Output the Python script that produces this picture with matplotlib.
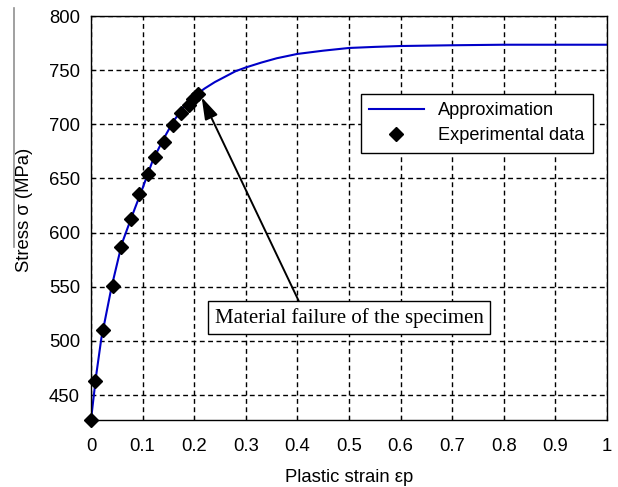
import numpy as np
import matplotlib
matplotlib.use("Agg")
import matplotlib.pyplot as plt
from matplotlib.lines import Line2D

# experimental points
exp_strain = [0.0, 0.008, 0.023, 0.042, 0.0575, 0.0775, 0.094, 0.11, 0.124, 0.142,
              0.159, 0.174, 0.19, 0.198, 0.208]
exp_stress = [427, 463, 510, 551, 587, 613, 636, 654, 670, 684,
              699, 710, 718, 723, 728]

# approximation curve
fit_strain = [0.0, 0.01, 0.02, 0.04, 0.06, 0.08, 0.1, 0.12, 0.14, 0.16, 0.18, 0.2, 0.22,
              0.24, 0.26, 0.28, 0.3, 0.33, 0.36, 0.4, 0.45, 0.5, 0.55, 0.6, 0.7, 0.8, 0.9, 1.0]
fit_stress = [427, 468, 502, 550, 590, 616, 641, 667, 686, 703, 716, 726, 733,
              739, 744, 749, 752.5, 757, 761, 765, 768, 770.5, 771.5, 772.3, 773, 773.5, 773.5, 773.5]

xticks = [0, 0.1, 0.2, 0.3, 0.4, 0.5, 0.6, 0.7, 0.8, 0.9, 1]
xticklabels = ["0", "0.1", "0.2", "0.3", "0.4", "0.5", "0.6", "0.7", "0.8", "0.9", "1"]
yticks = [450, 500, 550, 600, 650, 700, 750, 800]

plt.rcParams["font.family"] = ["Liberation Sans", "DejaVu Sans"]

fig = plt.figure(figsize=(6.18, 4.87), dpi=100)
ax = fig.add_axes([0.1472, 0.1376, 0.835, 0.8295])

ax.plot(fit_strain, fit_stress, color="#0000c8", lw=1.5, label="Approximation")
ax.plot(exp_strain, exp_stress, ls="none", marker="D", ms=7.5, color="black",
        label="Experimental data", clip_on=False)

ax.set_xlim(0, 1)
ax.set_ylim(427, 800)
ax.set_xticks(xticks)
ax.set_xticklabels(xticklabels)
ax.set_yticks(yticks)
ax.tick_params(direction="in", length=3, labelsize=13.3, color="black")
ax.tick_params(axis="x", pad=13)
ax.tick_params(axis="y", pad=8)
ax.grid(True, color="black", ls=(0, (3.5, 2.5)), lw=1.0)
for s in ax.spines.values():
    s.set_linewidth(1.0)

ax.set_xlabel("Plastic strain εp", fontsize=13.3, labelpad=10)
ax.set_ylabel("Stress σ (MPa)", fontsize=13.3)
ax.yaxis.set_label_coords(-0.112, 0.52)

leg = ax.legend(loc="upper left", bbox_to_anchor=(0.523, 0.807), fontsize=13.1,
                fancybox=False, framealpha=1, edgecolor="black",
                handlelength=3, borderpad=0.45, labelspacing=0.45, borderaxespad=0)
leg.get_frame().set_linewidth(1.0)

ax.annotate("Material failure of the specimen", xy=(0.2145, 725), xytext=(0.5, 521.5),
            ha="center", va="center", fontsize=15, family="Liberation Serif",
            bbox=dict(boxstyle="square,pad=0.3", fc="white", ec="black", lw=1.0),
            arrowprops=dict(arrowstyle="-|>,head_length=0.9,head_width=0.28", color="black",
                            lw=1.4, relpos=(0.325, 1.0), shrinkA=0, shrinkB=0))

# faint border line at the left edge of the scanned figure
fig.add_artist(Line2D([14 / 618, 14 / 618], [1 - 8 / 487, 1 - 247 / 487],
                      color="#909090", lw=1.2))

fig.savefig("out.png", dpi=100)
